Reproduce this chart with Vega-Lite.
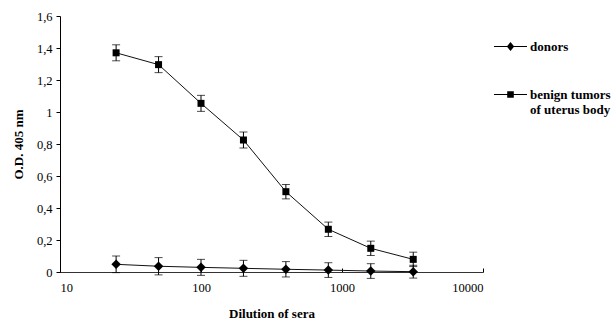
{
  "$schema": "https://vega.github.io/schema/vega-lite/v6.json",
  "autosize": "none",
  "width": 423,
  "height": 256,
  "padding": {"left": 60, "top": 16, "right": 130, "bottom": 48},
  "background": "white",
  "config": {
    "view": {"stroke": null},
    "font": "Liberation Serif",
    "axis": {"grid": false, "domainColor": "black", "tickColor": "black", "labelColor": "black", "titleColor": "black", "labelFont": "Liberation Serif", "titleFont": "Liberation Serif"}
  },
  "data": {
    "values": [
      {"series": "donors", "dil": 25, "od": 0.048, "err": 0.052},
      {"series": "donors", "dil": 50, "od": 0.036, "err": 0.054},
      {"series": "donors", "dil": 100, "od": 0.029, "err": 0.05},
      {"series": "donors", "dil": 200, "od": 0.023, "err": 0.05},
      {"series": "donors", "dil": 400, "od": 0.017, "err": 0.048},
      {"series": "donors", "dil": 800, "od": 0.012, "err": 0.046},
      {"series": "donors", "dil": 1600, "od": 0.006, "err": 0.046},
      {"series": "donors", "dil": 3200, "od": 0.002, "err": 0.04},
      {"series": "benign tumors of uterus body", "dil": 25, "od": 1.37, "err": 0.05},
      {"series": "benign tumors of uterus body", "dil": 50, "od": 1.296, "err": 0.05},
      {"series": "benign tumors of uterus body", "dil": 100, "od": 1.054, "err": 0.05},
      {"series": "benign tumors of uterus body", "dil": 200, "od": 0.825, "err": 0.05},
      {"series": "benign tumors of uterus body", "dil": 400, "od": 0.502, "err": 0.045},
      {"series": "benign tumors of uterus body", "dil": 800, "od": 0.267, "err": 0.045},
      {"series": "benign tumors of uterus body", "dil": 1600, "od": 0.148, "err": 0.045},
      {"series": "benign tumors of uterus body", "dil": 3200, "od": 0.079, "err": 0.045}
    ]
  },
  "encoding": {
    "x": {
      "field": "dil", "type": "quantitative",
      "scale": {"type": "log", "domain": [10, 10000], "nice": false},
      "axis": {"values": [10, 100, 1000, 10000], "format": "d", "title": "Dilution of sera", "tickSize": -4, "labelPadding": 13, "labelFontSize": 12.5, "titleFontSize": 13, "titleFontWeight": "bold", "titlePadding": 14, "domainColor": "#333333"}
    },
    "y": {
      "field": "od", "type": "quantitative",
      "scale": {"domain": [0, 1.6], "nice": false, "zero": false},
      "axis": {"values": [0, 0.2, 0.4, 0.6, 0.8, 1, 1.2, 1.4, 1.6], "labelExpr": "replace(format(datum.value, '.1~f'), '.', ',')", "title": "O.D.  405 nm", "tickSize": 4, "labelPadding": 4, "labelFontSize": 12.5, "titleFontSize": 13, "titleFontWeight": "bold", "titlePadding": 11}
    }
  },
  "layer": [
    {
      "mark": {"type": "line", "color": "#111111", "strokeWidth": 1},
      "encoding": {"detail": {"field": "series"}}
    },
    {
      "mark": {"type": "errorbar", "ticks": {"size": 8, "thickness": 1, "color": "black"}, "rule": {"strokeWidth": 1, "color": "black"}},
      "encoding": {
        "yError": {"field": "err"},
        "detail": {"field": "series"}
      }
    },
    {
      "mark": {"type": "point", "filled": true, "color": "black", "opacity": 1},
      "encoding": {
        "shape": {"field": "series", "type": "nominal", "scale": {"domain": ["donors", "benign tumors of uterus body"], "range": ["diamond", "square"]}, "legend": null},
        "size": {"field": "series", "type": "nominal", "scale": {"domain": ["donors", "benign tumors of uterus body"], "range": [90, 49]}, "legend": null}
      }
    },
    {
      "transform": [{"filter": "false"}],
      "mark": {"type": "point", "filled": true, "color": "black", "opacity": 1},
      "encoding": {
        "shape": {
          "field": "series", "type": "nominal",
          "scale": {"domain": ["donors", "benign tumors of uterus body"], "range": ["M-1,-0.035H-0.2L0,-0.27L0.2,-0.035H1V0.035H0.2L0,0.27L-0.2,0.035H-1Z", "M-1,-0.035H-0.2V-0.2H0.2V-0.035H1V0.035H0.2V0.2H-0.2V0.035H-1Z"]},
          "legend": {
            "title": null,
            "orient": "none",
            "legendX": 434,
            "legendY": 14,
            "padding": 0,
            "symbolSize": 1089,
            "symbolStrokeWidth": 0,
            "symbolFillColor": "black",
            "labelFont": "Liberation Serif",
            "labelFontSize": 13,
            "labelFontWeight": "bold",
            "labelColor": "black",
            "labelOffset": 3,
            "rowPadding": 24,
            "labelExpr": "datum.label == 'donors' ? 'donors' : ['benign tumors', 'of uterus body']",
            "encode": {
              "symbols": {
                "update": {
                  "fill": {"value": "black"},
                  "fillOpacity": {"value": 1},
                  "opacity": {"value": 1}
                }
              },
              "labels": {
                "update": {"lineHeight": {"value": 16}}
              }
            }
          }
        }
      }
    }
  ],
  "resolve": {"scale": {"shape": "independent", "size": "independent"}}
}
